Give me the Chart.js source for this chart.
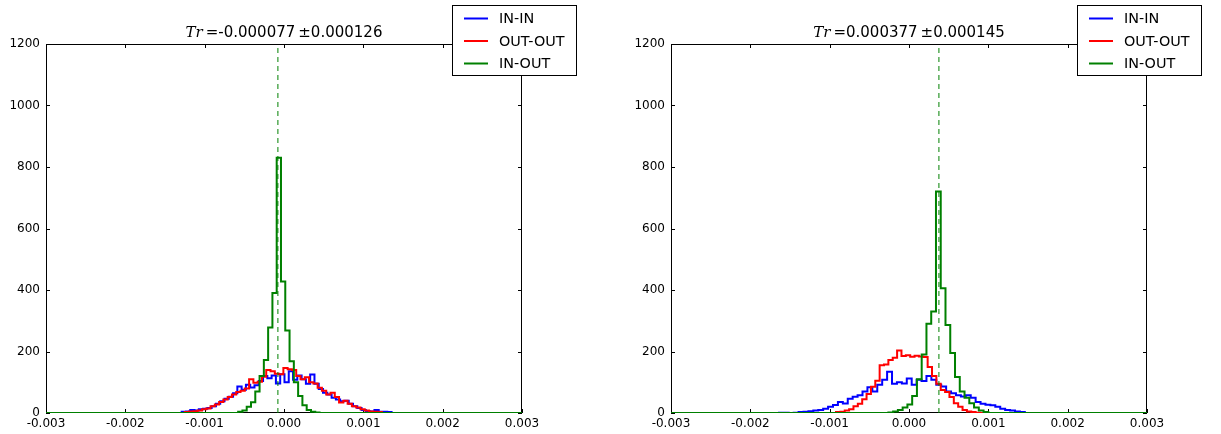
<!DOCTYPE html>
<html>
<head>
<meta charset="utf-8">
<script src="https://cdn.jsdelivr.net/npm/chart.js@4/dist/chart.umd.min.js"></script>
<style>
  html, body { margin: 0; padding: 0; background: #fff; }
  #wrap { position: relative; width: 1221px; height: 434px; }
  .panel { position: absolute; top: 0; height: 434px; }
</style>
</head>
<body>
<div id="wrap">
  <div class="panel" style="left:0;width:610px"><canvas id="leftChart" width="610" height="434"></canvas></div>
  <div class="panel" style="left:610px;width:611px"><canvas id="rightChart" width="611" height="434"></canvas></div>
</div>
<script>
// axis ranges
const X_MIN = -0.003;
const X_MAX = 0.003;
const X_STEP = 0.001;
const Y_MIN = 0;
const Y_MAX = 1200;
const Y_STEP = 200;

const seriesNames = ['IN-IN', 'OUT-OUT', 'IN-OUT'];
const seriesColors = ['#0000ff', '#ff0000', '#008000'];

// left panel: Tr mean and error
const leftMean = -0.000077;
const leftErr = 0.000126;

// histogram counts, each with its first bin edge and bin width
const leftInInStart = -0.00129;
const leftInInWidth = 0.000054;
const leftInIn = [4, 5, 10, 8, 12, 14, 16, 22, 30, 38, 46, 53, 64, 86, 76, 92, 83, 90, 104, 120,
  113, 122, 96, 126, 100, 136, 108, 122, 110, 95, 125, 95, 78, 66, 60, 50, 44, 38, 40, 30,
  22, 16, 10, 6, 5, 10, 4, 4, 3];

const leftOutOutStart = -0.00125;
const leftOutOutWidth = 0.000054;
const leftOutOut = [3, 5, 6, 8, 12, 15, 22, 28, 36, 44, 52, 60, 68, 72, 80, 110, 98, 102, 118, 140,
  136, 128, 126, 146, 142, 140, 120, 110, 116, 100, 96, 82, 72, 60, 66, 52, 34, 40, 30, 22,
  18, 12, 8, 5, 4, 3];

const leftInOutStart = -0.000578;
const leftInOutWidth = 0.000054;
const leftInOut = [4, 8, 20, 35, 70, 120, 172, 278, 390, 830, 428, 268, 168, 100, 55, 25, 10, 4, 2];

// right panel
const rightMean = 0.000377;
const rightErr = 0.000145;

const rightInInStart = -0.00164;
const rightInInWidth = 0.000062;
const rightInIn = [1, 1, 0, 1, 3, 4, 6, 8, 10, 14, 20, 26, 36, 31, 46, 53, 58, 70, 84, 70,
  92, 108, 134, 95, 100, 96, 112, 92, 108, 104, 120, 108, 92, 86, 70, 64, 58, 54, 58, 50,
  36, 30, 27, 25, 20, 14, 10, 8, 5, 3];

const rightOutOutStart = -0.00092;
const rightOutOutWidth = 0.000055;
const rightOutOut = [3, 4, 8, 12, 22, 30, 45, 62, 85, 105, 155, 158, 172, 180, 203, 185, 188, 183, 186, 184,
  182, 150, 120, 95, 75, 68, 52, 32, 20, 10, 5, 3, 1];

const rightInOutStart = -0.00026;
const rightInOutWidth = 0.00006;
const rightInOut = [2, 5, 10, 18, 28, 55, 110, 190, 290, 330, 720, 406, 286, 195, 117, 70, 50, 32, 18, 8, 3];

Chart.defaults.font.family = '"DejaVu Sans", sans-serif';
Chart.defaults.font.size = 12;
Chart.defaults.color = '#000';

// step outline like a "step" histogram, running along zero outside the bins.
// each point sits on a bin's right edge and carries that bin's count
function histPoints(start, width, counts) {
  const pts = [{ x: X_MIN, y: 0 }, { x: start, y: 0 }];
  counts.forEach((c, i) => pts.push({ x: start + (i + 1) * width, y: c }));
  pts.push({ x: X_MAX, y: 0 });
  return pts;
}

function histDataset(idx, start, width, counts) {
  return {
    label: seriesNames[idx],
    data: histPoints(start, width, counts),
    borderColor: seriesColors[idx],
    borderWidth: 2,
    stepped: 'after',
    pointRadius: 0,
    fill: false,
    order: 3 - idx
  };
}

// frame and inward tick marks, under the data
const framePlugin = {
  id: 'frame',
  beforeDatasetsDraw(chart) {
    const { ctx, chartArea: a, scales } = chart;
    const x = scales.x, y = scales.y;
    ctx.save();
    ctx.strokeStyle = '#000';
    ctx.lineWidth = 1;
    ctx.strokeRect(a.left + 0.5, a.top + 0.5, a.right - a.left - 1, a.bottom - a.top - 1);
    ctx.beginPath();
    x.ticks.forEach(t => {
      const px = Math.round(x.getPixelForValue(t.value)) + 0.5;
      ctx.moveTo(px, a.bottom); ctx.lineTo(px, a.bottom - 4);
      ctx.moveTo(px, a.top); ctx.lineTo(px, a.top + 4);
    });
    y.ticks.forEach(t => {
      const py = Math.round(y.getPixelForValue(t.value)) + 0.5;
      ctx.moveTo(a.left, py); ctx.lineTo(a.left + 4, py);
      ctx.moveTo(a.right, py); ctx.lineTo(a.right - 4, py);
    });
    ctx.stroke();
    ctx.restore();
  }
};

// title "Tr = mean ± err" with the math part in italic serif
const titlePlugin = {
  id: 'mathTitle',
  afterDraw(chart, args, opts) {
    const { ctx, chartArea: a } = chart;
    const serif = '15px "DejaVu Serif"';
    const sans = '15px "DejaVu Sans"';
    const parts = [
      { text: 'Tr', font: 'italic ' + serif },
      { text: '\u2009=', font: serif },
      { text: opts.mean.toFixed(6), font: sans },
      { text: '\u2009\u00b1', font: serif },
      { text: opts.err.toFixed(6), font: sans }
    ];
    ctx.save();
    let total = 0;
    parts.forEach(p => { ctx.font = p.font; p.w = ctx.measureText(p.text).width; total += p.w; });
    let cx = (a.left + a.right) / 2 - total / 2;
    ctx.fillStyle = '#000';
    ctx.textBaseline = 'alphabetic';
    parts.forEach(p => { ctx.font = p.font; ctx.fillText(p.text, cx, a.top - 7); cx += p.w; });
    ctx.restore();
  }
};

// boxed legend hanging over the top right corner
const legendPlugin = {
  id: 'boxLegend',
  afterDraw(chart) {
    const { ctx, chartArea: a } = chart;
    const items = chart.data.datasets.filter(d => d.label);
    const x0 = a.right - 70, y0 = a.top - 39, w = 124, h = 70;
    ctx.save();
    ctx.fillStyle = '#fff';
    ctx.fillRect(x0, y0, w, h);
    ctx.strokeStyle = '#000';
    ctx.lineWidth = 1;
    ctx.strokeRect(x0 + 0.5, y0 + 0.5, w, h);
    ctx.font = '14.4px "DejaVu Sans"';
    ctx.textBaseline = 'middle';
    items.forEach((d, i) => {
      const ry = y0 + 13.5 + i * 22.5;
      ctx.strokeStyle = d.borderColor;
      ctx.lineWidth = 2;
      ctx.beginPath();
      ctx.moveTo(x0 + 12, ry); ctx.lineTo(x0 + 36, ry);
      ctx.stroke();
      ctx.fillStyle = '#000';
      ctx.fillText(d.label, x0 + 47, ry + 1);
    });
    ctx.restore();
  }
};

function makeChart(canvasId, padLeft, padRight, mean, err, series) {
  const datasets = series.map((s, i) => histDataset(i, s[0], s[1], s[2]));
  // vertical dashed line at the mean
  datasets.push({
    data: [{ x: mean, y: Y_MIN }, { x: mean, y: Y_MAX }],
    borderColor: seriesColors[2],
    borderWidth: 1,
    borderDash: [5, 4],
    pointRadius: 0,
    fill: false,
    order: 0
  });

  return new Chart(document.getElementById(canvasId), {
    type: 'line',
    data: { datasets: datasets },
    options: {
      responsive: false,
      animation: false,
      layout: { padding: { left: padLeft, right: padRight, top: 44, bottom: 0 } },
      plugins: {
        legend: { display: false },
        title: { display: false },
        tooltip: { enabled: false },
        mathTitle: { mean: mean, err: err }
      },
      scales: {
        x: {
          type: 'linear',
          min: X_MIN,
          max: X_MAX,
          grid: { display: false, drawTicks: false },
          border: { display: false },
          ticks: {
            stepSize: X_STEP,
            padding: 4,
            maxRotation: 0,
            callback: v => (Math.abs(v) < 1e-9 ? 0 : v).toFixed(3)
          },
          afterFit: scale => { scale.height = 21; }
        },
        y: {
          min: Y_MIN,
          max: Y_MAX,
          grid: { display: false, drawTicks: false },
          border: { display: false },
          ticks: { stepSize: Y_STEP, padding: 6, callback: v => String(v) },
          afterFit: scale => { scale.width = 46; }
        }
      }
    },
    plugins: [framePlugin, titlePlugin, legendPlugin]
  });
}

makeChart('leftChart', 0, 88, leftMean, leftErr, [
  [leftInInStart, leftInInWidth, leftInIn],
  [leftOutOutStart, leftOutOutWidth, leftOutOut],
  [leftInOutStart, leftInOutWidth, leftInOut]
]);

makeChart('rightChart', 15, 74, rightMean, rightErr, [
  [rightInInStart, rightInInWidth, rightInIn],
  [rightOutOutStart, rightOutOutWidth, rightOutOut],
  [rightInOutStart, rightInOutWidth, rightInOut]
]);
</script>
</body>
</html>
